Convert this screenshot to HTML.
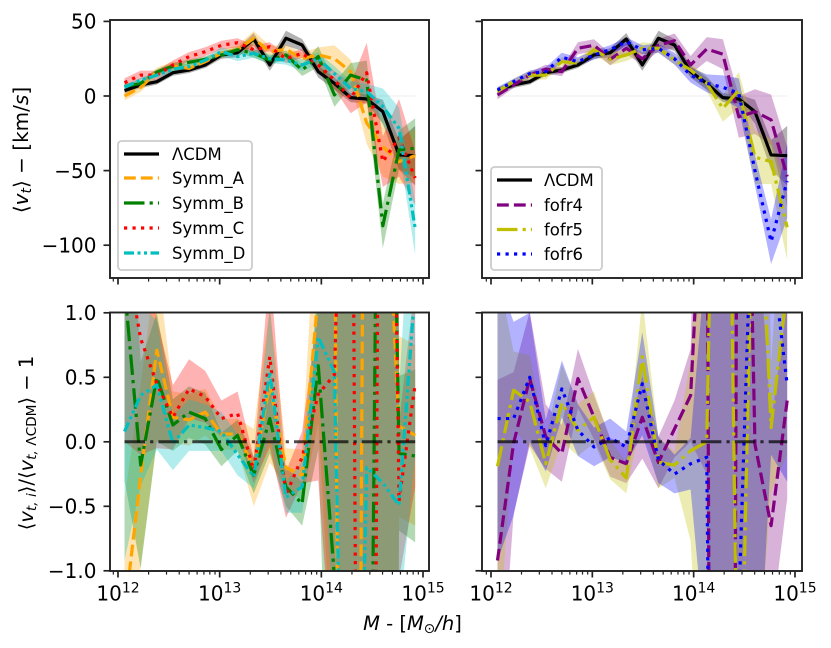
<!DOCTYPE html>
<html lang="en">
<head>
<meta charset="utf-8">
<title>Tangential velocity vs halo mass</title>
<style>
html,body{margin:0;padding:0;background:#fff;width:831px;height:648px;overflow:hidden;}
svg{display:block;overflow:hidden;}
text{font-family:"DejaVu Sans","Liberation Sans",sans-serif;fill:#000;}
</style>
</head>
<body>
<svg id="chart" xmlns="http://www.w3.org/2000/svg" width="831" height="648" viewBox="0 0 831 648">
  <defs>
    <clipPath id="clip-tl"><rect x="110" y="20" width="319" height="258"/></clipPath>
    <clipPath id="clip-tr"><rect x="482" y="20" width="320" height="258"/></clipPath>
    <clipPath id="clip-bl"><rect x="110" y="312.5" width="319" height="258.5"/></clipPath>
    <clipPath id="clip-br"><rect x="482" y="312.5" width="320" height="258.5"/></clipPath>
  </defs>
  <g id="plot-layer"></g>

  <text transform="translate(28,150) rotate(-90)" text-anchor="middle" font-size="20">⟨<tspan font-style="italic">v</tspan><tspan font-size="14" font-style="italic" dy="3">t</tspan><tspan dy="-3">⟩ − [km/</tspan><tspan font-style="italic">s</tspan>]</text>
  <text transform="translate(33,443) rotate(-90)" text-anchor="middle" font-size="19.5">⟨<tspan font-style="italic">v</tspan><tspan font-size="13.7" dy="3"><tspan font-style="italic">t, i</tspan></tspan><tspan dy="-3">⟩/⟨</tspan><tspan font-style="italic">v</tspan><tspan font-size="13.7" dy="3"><tspan font-style="italic">t,</tspan> ΛCDM</tspan><tspan dy="-3">⟩ − 1</tspan></text>
  <text x="412.5" y="630" text-anchor="middle" font-size="19.5"><tspan font-style="italic">M</tspan> - [<tspan font-style="italic">M</tspan><tspan font-size="13.7" dy="3">⊙</tspan><tspan dy="-3" font-style="italic">/h</tspan>]</text>

  <g>
    <rect x="118" y="141" width="134" height="129" rx="3.5" fill="#fff" fill-opacity="0.8" stroke="#ccc" stroke-width="1.8"/>
    <g>
      <line x1="124" x2="159" y1="154" y2="154" stroke="#000" stroke-width="3.2"/>
      <text x="172" y="160" font-size="16.5">ΛCDM</text>
    </g>
    <g>
      <line x1="124" x2="159" y1="178" y2="178" stroke="#ffa500" stroke-width="3.2" stroke-dasharray="11.8 5.1"/>
      <text x="172" y="184" font-size="16.5">Symm_A</text>
    </g>
    <g>
      <line x1="124" x2="159" y1="203" y2="203" stroke="#008000" stroke-width="3.2" stroke-dasharray="20.5 5.1 3.2 5.1"/>
      <text x="172" y="209" font-size="16.5">Symm_B</text>
    </g>
    <g>
      <line x1="124" x2="159" y1="228" y2="228" stroke="#ff0000" stroke-width="3.2" stroke-dasharray="3.2 5.3"/>
      <text x="172" y="234" font-size="16.5">Symm_C</text>
    </g>
    <g>
      <line x1="124" x2="159" y1="253" y2="253" stroke="#00bfbf" stroke-width="3.2" stroke-dasharray="10 3.5 3 3.5 3 3.5"/>
      <text x="172" y="259" font-size="16.5">Symm_D</text>
    </g>
  </g>

  <g>
    <rect x="491" y="167" width="111" height="103" rx="3.5" fill="#fff" fill-opacity="0.8" stroke="#ccc" stroke-width="1.8"/>
    <g>
      <line x1="497" x2="532" y1="180" y2="180" stroke="#000" stroke-width="3.2"/>
      <text x="544" y="186" font-size="16.5">ΛCDM</text>
    </g>
    <g>
      <line x1="497" x2="532" y1="205" y2="205" stroke="#800080" stroke-width="3.2" stroke-dasharray="11.8 5.1"/>
      <text x="544" y="211" font-size="16.5">fofr4</text>
    </g>
    <g>
      <line x1="497" x2="532" y1="229.5" y2="229.5" stroke="#bfbf00" stroke-width="3.2" stroke-dasharray="20.5 5.1 3.2 5.1"/>
      <text x="544" y="235.5" font-size="16.5">fofr5</text>
    </g>
    <g>
      <line x1="497" x2="532" y1="254" y2="254" stroke="#0000ff" stroke-width="3.2" stroke-dasharray="3.2 5.3"/>
      <text x="544" y="260" font-size="16.5">fofr6</text>
    </g>
  </g>
</svg>

<script>
// ---- categories: log10 halo mass of each bin ----
var logMass = [12.064,12.223,12.382,12.540,12.699,12.858,13.017,13.176,13.335,13.493,13.652,13.811,13.970,14.129,14.288,14.446,14.605,14.764,14.923];

// ---- top row: mean tangential velocity (km/s) and band half-widths ----
var lcdmV    = [3.6,7.4,9.6,15.6,17.4,20.8,27.5,29,38.2,20.8,38.7,34.2,16.3,8.4,-1.1,-2,-10.5,-39.5,-40];
var lcdmVErr = [2,2,2,2,2,2,2.5,3,4,4,5,4,4,4,3,3,8,10,20];
var symmAV    = [0,5.8,16,20,18.5,23,28.6,31,38.6,29.7,31.3,25,27.5,25,16.3,-18,-34,-44,-40];
var symmAVErr = [3,3,3,3,2.5,2.5,2.5,3,5,4,3,4,5,9,8,14,20,15,18];
var symmBV    = [6.3,8.5,16,20,22.6,24.6,27.5,31,28.6,24,27.5,17.4,26.4,0.7,14,10.7,-87,-36,-35];
var symmBVErr = [2,2,2,2,2,2,2,2,3,3,3,4,7,8,8,13,15,13,20];
var symmCV    = [8.9,14,14,20.8,26.4,29.7,34,35.7,31,33,25,28.6,20.8,10.7,-1.6,15.6,-44,-28,-55];
var symmCVErr = [3,3,3,3,3,3,3,3,3,3,3,3,4,6,10,20,17,26,18];
var symmDV    = [5.8,10.7,14,18,19.7,24,29.7,26.4,28.6,25,24,20.8,25,15,5,3,-7,-21.7,-88.7];
var symmDVErr = [1.5,1.5,2,2,2,2,3,3,3,3,3,4,4,5,5,5,12,14,18];
var fofr4V    = [0.7,7.4,14,18,16.3,32,34,24.6,32,25,34,37,20.8,31.5,28,-14,-10.5,-16,-54];
var fofr4VErr = [3,2,2,3,3,4,4,4,4,4,4,5,6,8,10,14,15,17,20];
var fofr5V    = [3,9.6,14,14,23,22,31,24.6,27.5,32,32,24,17.4,8.5,-8.3,4,-41,-44,-88];
var fofr5VErr = [2,2,3,3,3,3,3,4,4,4,3,3,4,5,9,12,18,15,22];
var fofr6V    = [4,9.6,15,16.3,26,23,27.5,31,36.4,31,32,25,14,8.5,5.8,1.8,-50,-97.6,-57];
var fofr6VErr = [2,2,2,3,3,3,3,3,3,3,3,4,5,6,8,10,10,15,25];

// ---- bottom row: ratio to LCDM minus one and band half-widths ----
var symmAR    = [-1.34,-0.26,0.71,0.19,0.17,0.23,0.06,0.06,-0.2,0.44,-0.2,-0.26,1.15,2,-15.5,7,2.7,0.12,0.05];
var symmARErr = [0.9,0.7,0.7,0.2,0.2,0.18,0.12,0.12,0.3,0.6,0.15,0.2,1,4,18,12,30,0.7,0.7];
var symmBR    = [1.2,-0.18,0.5,0.13,0.23,0.18,-0.06,0.05,-0.26,0.18,-0.35,-0.48,0.59,-1.05,-13,-6.3,7.3,-0.09,-0.11];
var symmBRErr = [1.5,0.8,0.5,0.2,0.2,0.2,0.13,0.12,0.14,0.27,0.15,0.17,0.65,3,16,10,30,0.6,0.67];
var symmCR    = [1.5,0.8,0.45,0.19,0.41,0.35,0.18,0.22,-0.22,0.66,-0.41,-0.12,0.37,0.52,4.9,-15,8.9,-0.46,0.45];
var symmCRErr = [1.5,0.9,0.5,0.25,0.23,0.2,0.14,0.17,0.1,0.7,0.18,0.2,0.67,2.5,8,18,30,0.6,0.8];
var symmDR    = [0.08,0.36,0.44,-0.01,0.13,0.11,0.08,-0.1,-0.27,0.54,-0.43,-0.35,0.81,0.54,-6,-0.2,-0.32,-0.49,1.2];
var symmDRErr = [1,0.7,0.5,0.21,0.2,0.18,0.15,0.16,0.09,0.5,0.12,0.2,0.4,2,9,8,30,0.9,1.3];
var fofr4R    = [-0.92,-0.01,0.49,0.04,-0.09,0.49,0.19,-0.12,-0.17,0.19,-0.16,0.1,0.36,2.75,-26,6,-0.02,-0.65,0.32];
var fofr4RErr = [1.4,0.55,0.52,0.25,0.22,0.23,0.17,0.15,0.15,0.32,0.2,0.22,0.36,3,28,9,2,0.8,0.76];
var fofr5R    = [-0.19,0.4,0.31,-0.17,0.3,0.09,0.19,-0.14,-0.28,0.66,-0.16,-0.18,-0.07,0,6.5,-3,2.9,0.11,1.2];
var fofr5RErr = [1.5,0.3,0.36,0.19,0.3,0.2,0.2,0.15,0.12,0.45,0.2,0.1,0.7,3,9,6,5,0.5,1.3];
var fofr6R    = [0.18,0.18,0.5,-0.03,0.41,0.09,-0.04,0.03,-0.04,0.45,-0.14,-0.25,-0.17,-0.12,-12.5,-1.24,2.6,1.5,0.44];
var fofr6RErr = [1.1,0.75,0.5,0.2,0.22,0.2,0.15,0.15,0.12,0.4,0.18,0.15,0.2,1.6,15,4,5,1.6,0.75];

// ---- axis ticks ----
var xMajorTicks = [12,13,14,15];
var xMinorMantissas = [2,3,4,5,6,7,8,9];
var xMinorExtra = [11.954];
var topYTicks = [50,0,-50,-100];
var topYLabels = ['50','0','\u221250','\u2212100'];
var bottomYTicks = [1,0.5,0,-0.5,-1];
var bottomYLabels = ['1.0','0.5','0.0','\u22120.5','\u22121.0'];

var SVG_NS = 'http://www.w3.org/2000/svg';
var root = document.getElementById('plot-layer');

function mk(parent, tag, attrs, name) {
  var el = document.createElementNS(SVG_NS, tag);
  for (var k in attrs) { el.setAttribute(k, attrs[k]); }
  
  
  parent.appendChild(el);
  return el;
}

function xLeft(m) { return 118 + (m - 12) * 101.67; }
function xRight(m) { return 491 + (m - 12) * 101.33; }
function yTop(v) { return 96 - v * 1.492; }
function yBottom(r) { return 441.8 - r * 129; }

// Geometry is cut off just outside the panel, so off-scale values keep their true slope
var CLIP_TOP = 0;
var CLIP_BOTTOM = 590;

function cutHalfPlane(pts, limit, keepBelow) {
  var out = [];
  function inside(p) { return keepBelow ? p[1] >= limit : p[1] <= limit; }
  for (var i = 0; i < pts.length; i++) {
    var a = pts[i], b = pts[(i + 1) % pts.length];
    if (inside(a)) { out.push(a); }
    if (inside(a) !== inside(b)) {
      var t = (limit - a[1]) / (b[1] - a[1]);
      out.push([a[0] + t * (b[0] - a[0]), limit]);
    }
  }
  return out;
}

function drawBand(group, name, vals, errs, color, xf, yf) {
  var upper = [], lower = [];
  for (var i = 0; i < logMass.length; i++) {
    var x = xf(logMass[i]);
    upper.push([x, yf(vals[i] + errs[i])]);
    lower.unshift([x, yf(vals[i] - errs[i])]);
  }
  var poly = cutHalfPlane(cutHalfPlane(upper.concat(lower), CLIP_TOP, true), CLIP_BOTTOM, false);
  var pts = poly.map(function (p) { return p[0].toFixed(2) + ',' + p[1].toFixed(2); }).join(' ');
  mk(group, 'polygon', { points: pts, fill: color, 'fill-opacity': 0.3, stroke: 'none' }, name + '-band');
}

function drawLine(group, name, vals, color, dash, xf, yf) {
  var d = '', penDown = false;
  for (var i = 0; i < logMass.length - 1; i++) {
    var x0 = xf(logMass[i]), y0 = yf(vals[i]);
    var x1 = xf(logMass[i + 1]), y1 = yf(vals[i + 1]);
    var t0 = 0, t1 = 1, dy = y1 - y0;
    if (dy !== 0) {
      var ta = (CLIP_TOP - y0) / dy, tb = (CLIP_BOTTOM - y0) / dy;
      t0 = Math.max(0, Math.min(ta, tb));
      t1 = Math.min(1, Math.max(ta, tb));
    } else if (y0 < CLIP_TOP || y0 > CLIP_BOTTOM) {
      t0 = 1; t1 = 0;
    }
    if (t0 > t1) { penDown = false; continue; }
    if (!penDown || t0 > 0) {
      d += 'M' + (x0 + t0 * (x1 - x0)).toFixed(2) + ' ' + (y0 + t0 * dy).toFixed(2);
    }
    d += 'L' + (x0 + t1 * (x1 - x0)).toFixed(2) + ' ' + (y0 + t1 * dy).toFixed(2);
    penDown = t1 === 1;
  }
  var attrs = { d: d, fill: 'none', stroke: color, 'stroke-width': 3.2, 'stroke-linejoin': 'round' };
  if (dash) { attrs['stroke-dasharray'] = dash; }
  mk(group, 'path', attrs, name + '-line');
}

var DASH = '11.8 5.1';
var DASHDOT = '20.5 5.1 3.2 5.1';
var DOT = '3.2 5.3';
var DASHDOTDOT = '10 3.5 3 3.5 3 3.5';

function drawAxes(prefix, left, right, top, bottom, xf, yf, yTicks, yLabels, showXLabels) {
  var g = mk(root, 'g', {}, prefix + '-axes-frame');
  var i, j, x, y;
  var minor = xMinorExtra.slice();
  for (i = 0; i < xMajorTicks.length - 1; i++) {
    for (j = 0; j < xMinorMantissas.length; j++) {
      minor.push(xMajorTicks[i] + Math.log10(xMinorMantissas[j]));
    }
  }
  for (i = 0; i < minor.length; i++) {
    x = xf(minor[i]);
    mk(g, 'line', { x1: x, x2: x, y1: bottom, y2: bottom + 3.6, stroke: '#222', 'stroke-width': 1.2 }, prefix + '-x-minor-tick');
  }
  for (i = 0; i < xMajorTicks.length; i++) {
    x = xf(xMajorTicks[i]);
    mk(g, 'line', { x1: x, x2: x, y1: bottom, y2: bottom + 6.5, stroke: '#222', 'stroke-width': 1.7 }, prefix + '-x-major-tick');
    if (showXLabels) {
      var t = mk(g, 'text', { x: x, y: bottom + 29.5, 'text-anchor': 'middle', 'font-size': 20 }, prefix + '-x-tick-label');
      var base = document.createElementNS(SVG_NS, 'tspan');
      base.textContent = '10';
      t.appendChild(base);
      var sup = document.createElementNS(SVG_NS, 'tspan');
      sup.setAttribute('font-size', '14');
      sup.setAttribute('dy', '-8');
      sup.textContent = String(xMajorTicks[i]);
      t.appendChild(sup);
    }
  }
  for (i = 0; i < yTicks.length; i++) {
    y = yf(yTicks[i]);
    mk(g, 'line', { x1: left - 6.5, x2: left, y1: y, y2: y, stroke: '#222', 'stroke-width': 1.7 }, prefix + '-y-tick');
    if (yLabels) {
      var l = mk(g, 'text', { x: left - 13.5, y: y + 7.3, 'text-anchor': 'end', 'font-size': 20 }, prefix + '-y-tick-label');
      l.textContent = yLabels[i];
    }
  }
  mk(g, 'rect', { x: left, y: top, width: right - left, height: bottom - top, fill: 'none', stroke: '#222', 'stroke-width': 1.9 }, prefix + '-spines');
}

var gTL = mk(root, 'g', { 'clip-path': 'url(#clip-tl)' }, 'top-left-plot');
var gTR = mk(root, 'g', { 'clip-path': 'url(#clip-tr)' }, 'top-right-plot');
var gBL = mk(root, 'g', { 'clip-path': 'url(#clip-bl)' }, 'bottom-left-plot');
var gBR = mk(root, 'g', { 'clip-path': 'url(#clip-br)' }, 'bottom-right-plot');

mk(gTL, 'line', { x1: xLeft(logMass[0]), x2: xLeft(logMass[18]), y1: yTop(0), y2: yTop(0), stroke: '#000', 'stroke-opacity': 0.07, 'stroke-width': 1 }, 'top-left-zero-line');
drawBand(gTL, 'lcdm', lcdmV, lcdmVErr, '#000000', xLeft, yTop);
drawBand(gTL, 'symm-a', symmAV, symmAVErr, '#ffa500', xLeft, yTop);
drawBand(gTL, 'symm-b', symmBV, symmBVErr, '#008000', xLeft, yTop);
drawBand(gTL, 'symm-c', symmCV, symmCVErr, '#ff0000', xLeft, yTop);
drawBand(gTL, 'symm-d', symmDV, symmDVErr, '#00bfbf', xLeft, yTop);
drawLine(gTL, 'lcdm', lcdmV, '#000000', null, xLeft, yTop);
drawLine(gTL, 'symm-a', symmAV, '#ffa500', DASH, xLeft, yTop);
drawLine(gTL, 'symm-b', symmBV, '#008000', DASHDOT, xLeft, yTop);
drawLine(gTL, 'symm-c', symmCV, '#ff0000', DOT, xLeft, yTop);
drawLine(gTL, 'symm-d', symmDV, '#00bfbf', DASHDOTDOT, xLeft, yTop);

mk(gTR, 'line', { x1: xRight(logMass[0]), x2: xRight(logMass[18]), y1: yTop(0), y2: yTop(0), stroke: '#000', 'stroke-opacity': 0.07, 'stroke-width': 1 }, 'top-right-zero-line');
drawBand(gTR, 'lcdm', lcdmV, lcdmVErr, '#000000', xRight, yTop);
drawBand(gTR, 'fofr4', fofr4V, fofr4VErr, '#800080', xRight, yTop);
drawBand(gTR, 'fofr5', fofr5V, fofr5VErr, '#bfbf00', xRight, yTop);
drawBand(gTR, 'fofr6', fofr6V, fofr6VErr, '#0000ff', xRight, yTop);
drawLine(gTR, 'lcdm', lcdmV, '#000000', null, xRight, yTop);
drawLine(gTR, 'fofr4', fofr4V, '#800080', DASH, xRight, yTop);
drawLine(gTR, 'fofr5', fofr5V, '#bfbf00', DASHDOT, xRight, yTop);
drawLine(gTR, 'fofr6', fofr6V, '#0000ff', DOT, xRight, yTop);

drawBand(gBL, 'symm-a-ratio', symmAR, symmARErr, '#ffa500', xLeft, yBottom);
drawBand(gBL, 'symm-b-ratio', symmBR, symmBRErr, '#008000', xLeft, yBottom);
drawBand(gBL, 'symm-c-ratio', symmCR, symmCRErr, '#ff0000', xLeft, yBottom);
drawBand(gBL, 'symm-d-ratio', symmDR, symmDRErr, '#00bfbf', xLeft, yBottom);
drawLine(gBL, 'symm-a-ratio', symmAR, '#ffa500', DASH, xLeft, yBottom);
drawLine(gBL, 'symm-b-ratio', symmBR, '#008000', DASHDOT, xLeft, yBottom);
drawLine(gBL, 'symm-c-ratio', symmCR, '#ff0000', DOT, xLeft, yBottom);
drawLine(gBL, 'symm-d-ratio', symmDR, '#00bfbf', DASHDOTDOT, xLeft, yBottom);
mk(gBL, 'line', { x1: xLeft(logMass[0]), x2: xLeft(logMass[18]), y1: yBottom(0), y2: yBottom(0), stroke: '#000', 'stroke-opacity': 0.7, 'stroke-width': 3, 'stroke-dasharray': DASHDOT }, 'bottom-left-reference-line');

drawBand(gBR, 'fofr4-ratio', fofr4R, fofr4RErr, '#800080', xRight, yBottom);
drawBand(gBR, 'fofr5-ratio', fofr5R, fofr5RErr, '#bfbf00', xRight, yBottom);
drawBand(gBR, 'fofr6-ratio', fofr6R, fofr6RErr, '#0000ff', xRight, yBottom);
drawLine(gBR, 'fofr4-ratio', fofr4R, '#800080', DASH, xRight, yBottom);
drawLine(gBR, 'fofr5-ratio', fofr5R, '#bfbf00', DASHDOT, xRight, yBottom);
drawLine(gBR, 'fofr6-ratio', fofr6R, '#0000ff', DOT, xRight, yBottom);
mk(gBR, 'line', { x1: xRight(logMass[0]), x2: xRight(logMass[18]), y1: yBottom(0), y2: yBottom(0), stroke: '#000', 'stroke-opacity': 0.7, 'stroke-width': 3, 'stroke-dasharray': DASHDOT }, 'bottom-right-reference-line');

drawAxes('top-left', 110, 429, 20, 278, xLeft, yTop, topYTicks, topYLabels, false);
drawAxes('top-right', 482, 802, 20, 278, xRight, yTop, topYTicks, null, false);
drawAxes('bottom-left', 110, 429, 312.5, 571, xLeft, yBottom, bottomYTicks, bottomYLabels, true);
drawAxes('bottom-right', 482, 802, 312.5, 571, xRight, yBottom, bottomYTicks, null, true);
</script>
</body>
</html>
